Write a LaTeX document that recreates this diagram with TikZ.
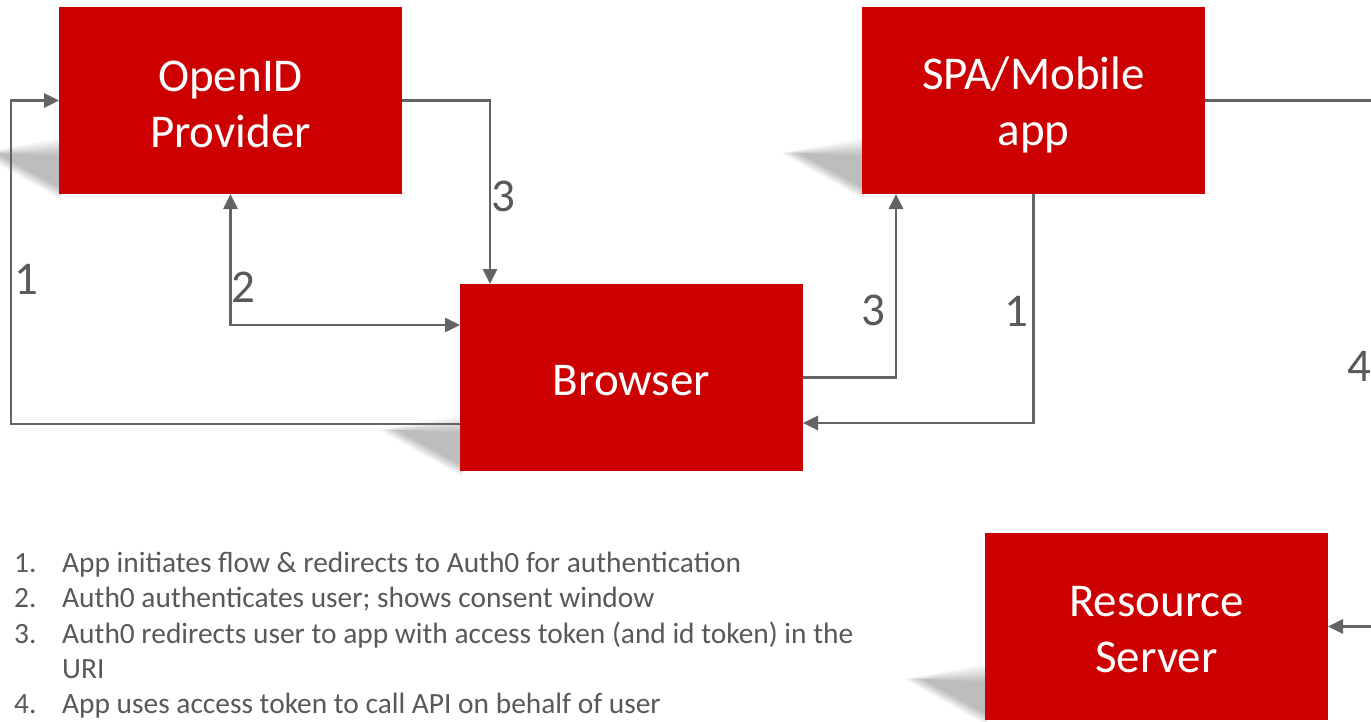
\documentclass[tikz,border=0pt]{standalone}
\usepackage{fontspec}
\setmainfont{Carlito}
\usetikzlibrary{arrows.meta}
\definecolor{boxred}{RGB}{204,0,0}
\definecolor{linegray}{RGB}{100,100,100}
\definecolor{txtgray}{RGB}{89,89,89}
\newcommand\boxshadow[2]{%
  \foreach \e in {-9,-7,...,9}{%
    \fill[black, opacity=0.026] ({#1-72-\e},{#2-41}) -- ({#1+2},{#2-47-\e}) -- ({#1+2},{#2+\e*0.6}) -- cycle;
  }%
}
\begin{document}
\begin{tikzpicture}[x=1pt,y=-1pt,
  box/.style={fill=boxred,draw=none,minimum width=343pt,minimum height=187pt,inner sep=0pt,outer sep=0pt},
  boxtext/.style={text=white,align=center,inner sep=0pt,font=\fontsize{47}{56}\selectfont},
  conn/.style={draw=linegray,line width=2.8pt},
  tip/.style={-{Triangle[length=15pt,width=14pt]}},
  bitip/.style={{Triangle[length=15pt,width=14pt]}-{Triangle[length=15pt,width=14pt]}},
  lbl/.style={text=txtgray,font=\fontsize{47}{56}\selectfont,inner sep=0pt},
  listitem/.style={text=txtgray,font=\fontsize{29.4}{35}\selectfont,inner sep=0pt,anchor=base west}]
\useasboundingbox (0,0) rectangle (1371,721);
\clip (0,0) rectangle (1371,721);
\fill[white] (0,0) rectangle (1371,721);

% shadows
\boxshadow{59}{194}
\boxshadow{862}{194}
\boxshadow{460}{471}
\boxshadow{985}{720}

% boxes
\node[box] (op) at (230.5,100.5) {};
\node[box] (spa) at (1033.5,100.5) {};
\node[box] (br) at (631.5,377.5) {};
\node[box] (rs) at (1156.5,626.5) {};
\node[boxtext] (opt) at ([yshift=-4pt]op.center) {OpenID\\Provider};
\node[boxtext] (spat) at ([yshift=-4pt]spa.center) {SPA/Mobile\\app};
\node[boxtext] (brt) at ([yshift=-3pt]br.center) {Browser};
\node[boxtext] (rst) at ([yshift=-3pt]rs.center) {Resource\\Server};

% helper coordinates
\coordinate (c1) at (11,424);
\coordinate (c2) at (0,325);
\coordinate (c3) at (490,0);
\coordinate (c4) at (896,0);
\coordinate (c5) at (0,423);
\coordinate (c6) at (1392,0);

% connectors
\draw[conn,tip] (br.west |- c1) -- (c1) |- (op.west);
\draw[conn,bitip] (op.south) |- (br.west |- c2);
\draw[conn,tip] (op.east) -| (c3 |- br.north);
\draw[conn,tip] (br.east) -| (c4 |- spa.south);
\draw[conn,tip] (spa.south) |- (br.east |- c5);
\draw[conn,tip] (spa.east) -| (c6 |- rs.east) -- (rs.east);

% connector labels
\node[lbl] (l1a) at (26,279) {1};
\node[lbl] (l2) at (243,287) {2};
\node[lbl] (l3a) at (503,196) {3};
\node[lbl] (l3b) at (873,310) {3};
\node[lbl] (l1b) at (1016,311) {1};
\node[lbl] (l4) at (1359,366) {4};

% list
\node[listitem] (n1) at (14,572) {1.};
\node[listitem] (t1) at (62,572) {App initiates flow \& redirects to Auth0 for authentication};
\node[listitem] (n2) at (14,607) {2.};
\node[listitem] (t2) at (62,607) {Auth0 authenticates user; shows consent window};
\node[listitem] (n3) at (14,643) {3.};
\node[listitem] (t3) at (62,643) {Auth0 redirects user to app with access token (and id token) in the};
\node[listitem] (t3b) at (62,678) {URI};
\node[listitem] (n4) at (14,713) {4.};
\node[listitem] (t4) at (62,713) {App uses access token to call API on behalf of user};
\end{tikzpicture}
\end{document}
